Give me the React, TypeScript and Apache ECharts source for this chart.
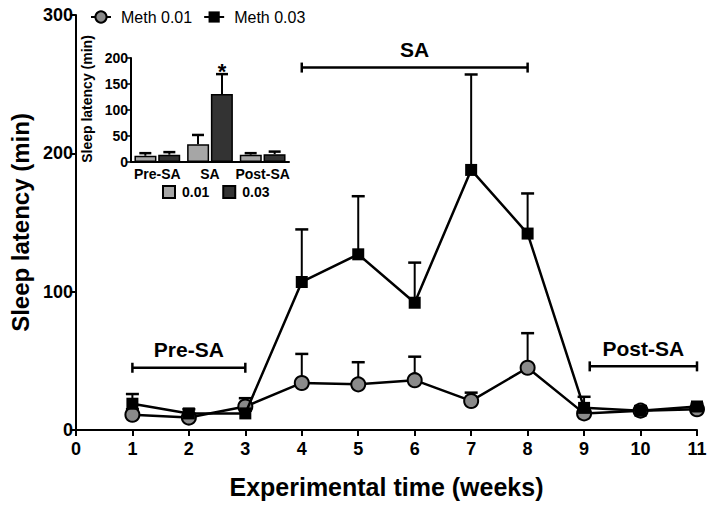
import React, { useEffect, useRef } from "react";
import * as echarts from "echarts";

// Main chart data
const weeks = [1, 2, 3, 4, 5, 6, 7, 8, 9, 10, 11];
const meth001 = [11, 9, 17, 34, 33, 36, 21, 45, 12, 14, 15];
const meth001Err = [4, 3, 6, 21, 16, 17, 6, 25, 3, 3, 2];
const meth003 = [19, 12, 12, 107, 127, 92, 188, 142, 16, 14, 17];
const meth003Err = [7, 3, 2, 38, 42, 29, 69, 29, 8, 3, 2];

const xTicks = [0, 11, 1]; // min, max, interval
const yTicks = [0, 300, 100];

// Phase brackets
const bracketLabels = ["Pre-SA", "SA", "Post-SA"];
const bracketStart = [1, 4, 9.1];
const bracketEnd = [3, 8, 11];
const bracketY = [45, 262, 46];

// Inset data
const phases = ["Pre-SA", "SA", "Post-SA"];
const inset001 = [12, 34, 14];
const inset001Err = [5, 18, 3];
const inset003 = [14, 131, 15];
const inset003Err = [5, 38, 5];
const insetSig = ["", "*", ""];
const insetTicks = [0, 200, 50];

const FONT = "Liberation Sans, Arial, sans-serif";

function errRenderer(capHalf: number, offset: number, sig?: string[]) {
  return (params: any, api: any) => {
    const x = api.value(0);
    const y = api.value(1);
    const e = api.value(2);
    const p0 = api.coord([x, y]);
    const p1 = api.coord([x, y + e]);
    const cx = p0[0] + offset;
    const children: any[] = [
      { type: "line", shape: { x1: cx, y1: p0[1], x2: cx, y2: p1[1] }, style: { stroke: "#000", lineWidth: 2 } },
      { type: "line", shape: { x1: cx - capHalf, y1: p1[1], x2: cx + capHalf, y2: p1[1] }, style: { stroke: "#000", lineWidth: 2.5 } },
    ];
    if (sig && sig[params.dataIndex]) {
      children.push({
        type: "text",
        style: {
          text: sig[params.dataIndex],
          x: cx,
          y: p1[1] + 8,
          align: "center",
          verticalAlign: "bottom",
          font: `bold 22px ${FONT}`,
          fill: "#000",
        },
      });
    }
    return { type: "group", children };
  };
}

function bracketRenderer(params: any, api: any) {
  const s = api.value(0);
  const e = api.value(1);
  const y = api.value(2);
  const p1 = api.coord([s, y]);
  const p2 = api.coord([e, y]);
  const h = 5;
  return {
    type: "group",
    children: [
      { type: "line", shape: { x1: p1[0], y1: p1[1], x2: p2[0], y2: p2[1] }, style: { stroke: "#000", lineWidth: 2.5 } },
      { type: "line", shape: { x1: p1[0], y1: p1[1] - h, x2: p1[0], y2: p1[1] + h }, style: { stroke: "#000", lineWidth: 2.5 } },
      { type: "line", shape: { x1: p2[0], y1: p2[1] - h, x2: p2[0], y2: p2[1] + h }, style: { stroke: "#000", lineWidth: 2.5 } },
      {
        type: "text",
        style: {
          text: bracketLabels[params.dataIndex],
          x: (p1[0] + p2[0]) / 2,
          y: p1[1] - 18,
          align: "center",
          verticalAlign: "middle",
          font: `bold 21px ${FONT}`,
          fill: "#000",
        },
      },
    ],
  };
}

export default function App() {
  const ref = useRef<HTMLDivElement>(null);
  useEffect(() => {
    if (!ref.current) return;
    const chart = echarts.init(ref.current, null, { renderer: "svg" });
    const axisLine = { show: true, lineStyle: { color: "#000", width: 2 } };
    const option: any = {
      animation: false,
      backgroundColor: "#fff",
      textStyle: { fontFamily: FONT },
      legend: [
        {
          data: ["Meth 0.01", "Meth 0.03"],
          left: 85,
          top: 4,
          itemWidth: 20,
          itemHeight: 14,
          itemGap: 11,
          textStyle: { fontFamily: FONT, fontSize: 16, color: "#000", padding: [0, 0, 0, 5] },
        },
        {
          data: ["0.01", "0.03"],
          left: 157,
          top: 180,
          icon: "rect",
          itemWidth: 12,
          itemHeight: 12,
          itemGap: 13,
          textStyle: { fontFamily: FONT, fontSize: 14, fontWeight: "bold", color: "#000", padding: [0, 0, 0, 2] },
        },
      ],
      grid: [
        { left: 75, right: 17, top: 15, bottom: 80 },
        { left: 131, top: 58, width: 158, height: 104 },
      ],
      xAxis: [
        {
          type: "value",
          min: xTicks[0],
          max: xTicks[1],
          interval: xTicks[2],
          name: "Experimental time (weeks)",
          nameLocation: "middle",
          nameGap: 44,
          nameTextStyle: { fontFamily: FONT, fontSize: 25, fontWeight: "bold", color: "#000" },
          axisLine,
          axisTick: { show: true, length: 6, lineStyle: { color: "#000", width: 2 } },
          axisLabel: { fontFamily: FONT, fontSize: 18, fontWeight: "bold", color: "#000", margin: 10 },
          splitLine: { show: false },
        },
        {
          type: "category",
          gridIndex: 1,
          data: phases,
          axisLine,
          axisTick: { show: false },
          axisLabel: { interval: 0, hideOverlap: false, fontFamily: FONT, fontSize: 14, fontWeight: "bold", color: "#000", margin: 5 },
        },
      ],
      yAxis: [
        {
          type: "value",
          min: yTicks[0],
          max: yTicks[1],
          interval: yTicks[2],
          name: "Sleep latency (min)",
          nameLocation: "middle",
          nameGap: 42,
          nameTextStyle: { fontFamily: FONT, fontSize: 24, fontWeight: "bold", color: "#000" },
          axisLine,
          axisTick: { show: true, length: 6, lineStyle: { color: "#000", width: 2 } },
          axisLabel: { fontFamily: FONT, fontSize: 18, fontWeight: "bold", color: "#000", margin: 3 },
          splitLine: { show: false },
        },
        {
          type: "value",
          gridIndex: 1,
          min: insetTicks[0],
          max: insetTicks[1],
          interval: insetTicks[2],
          name: "Sleep latency (min)",
          nameLocation: "middle",
          nameGap: 37,
          nameTextStyle: { fontFamily: FONT, fontSize: 14, fontWeight: "bold", color: "#000", padding: [0, 0, 0, 22] },
          axisLine,
          axisTick: { show: true, length: 4, lineStyle: { color: "#000", width: 1.5 } },
          axisLabel: { fontFamily: FONT, fontSize: 14, fontWeight: "bold", color: "#000", margin: 3 },
          splitLine: { show: false },
        },
      ],
      series: [
        {
          type: "custom",
          name: "err001",
          renderItem: errRenderer(6.5, 0),
          data: weeks.map((w, i) => [w, meth001[i], meth001Err[i]]),
          z: 1,
        },
        {
          type: "custom",
          name: "err003",
          renderItem: errRenderer(6.5, 0),
          data: weeks.map((w, i) => [w, meth003[i], meth003Err[i]]),
          z: 1,
        },
        {
          type: "line",
          name: "Meth 0.01",
          data: weeks.map((w, i) => [w, meth001[i]]),
          symbol: "circle",
          symbolSize: 14,
          lineStyle: { color: "#000", width: 2.5 },
          itemStyle: { color: "#8a8a8a", borderColor: "#000", borderWidth: 2 },
          z: 3,
        },
        {
          type: "line",
          name: "Meth 0.03",
          data: weeks.map((w, i) => [w, meth003[i]]),
          symbol: "rect",
          symbolSize: 12,
          lineStyle: { color: "#000", width: 2.5 },
          itemStyle: { color: "#000", borderColor: "#000", borderWidth: 0 },
          z: 4,
        },
        {
          type: "custom",
          name: "brackets",
          renderItem: bracketRenderer,
          data: bracketLabels.map((_, i) => [bracketStart[i], bracketEnd[i], bracketY[i]]),
          z: 5,
        },
        {
          type: "bar",
          name: "0.01",
          xAxisIndex: 1,
          yAxisIndex: 1,
          data: inset001,
          barWidth: 22,
          barGap: "8%",
          itemStyle: { color: "#a6a6a6", borderColor: "#000", borderWidth: 1.5 },
          z: 2,
        },
        {
          type: "bar",
          name: "0.03",
          xAxisIndex: 1,
          yAxisIndex: 1,
          data: inset003,
          barWidth: 22,
          barGap: "8%",
          itemStyle: { color: "#333333", borderColor: "#000", borderWidth: 1.5 },
          z: 2,
        },
        {
          type: "custom",
          name: "insetErr001",
          xAxisIndex: 1,
          yAxisIndex: 1,
          renderItem: errRenderer(6, -12),
          data: phases.map((_, i) => [i, inset001[i], inset001Err[i]]),
          z: 1,
        },
        {
          type: "custom",
          name: "insetErr003",
          xAxisIndex: 1,
          yAxisIndex: 1,
          renderItem: errRenderer(6, 12, insetSig),
          data: phases.map((_, i) => [i, inset003[i], inset003Err[i]]),
          z: 1,
        },
      ],
    };
    chart.setOption(option);
    return () => chart.dispose();
  }, []);
  return <div ref={ref} style={{ width: 714, height: 510, position: "absolute", left: 0, top: 0 }} />;
}
